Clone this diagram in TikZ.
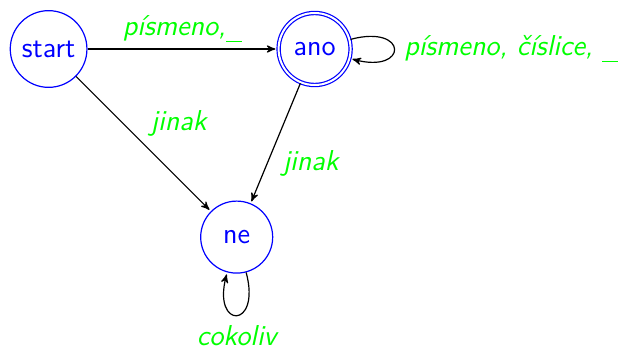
\documentclass[tikz,border=0pt]{standalone}
\usepackage{fontspec}
\usetikzlibrary{arrows,automata}
\newcommand{\uscore}{\rule[-3.3pt]{8pt}{0.5pt}}

\begin{document}
\begin{tikzpicture}[->,>=stealth',shorten >=1pt,auto,node distance=133pt,semithick,
        font=\sffamily\fontsize{14.4}{17}\selectfont,
        every state/.style={draw=blue,text=blue,minimum size=36pt,inner sep=4pt},
        accepting by double/.append style={double distance=1pt},
        lbl/.style={text=green,font=\sffamily\itshape\fontsize{14.4}{17}\selectfont}]
  \useasboundingbox (-24.3pt,24.5pt) rectangle (288.7pt,-149.5pt);
  \node[state] (start) {start};
  \node[state,accepting] (ano) [right of=start] {ano};
  \node[state] (ne) [below right of=start] {ne};

  \path (start) edge              node[lbl] {písmeno,\uscore} (ano)
        (start) edge              node[lbl] {jinak} (ne)
        (ano) edge                node[lbl] {jinak} (ne)
        (ano) edge[loop right]    node[lbl,xshift=1.5pt] {písmeno, číslice, \uscore} (ano)
        (ne) edge[loop below]     node[lbl,yshift=-1.5pt] {cokoliv} (ne);
\end{tikzpicture}
\end{document}
